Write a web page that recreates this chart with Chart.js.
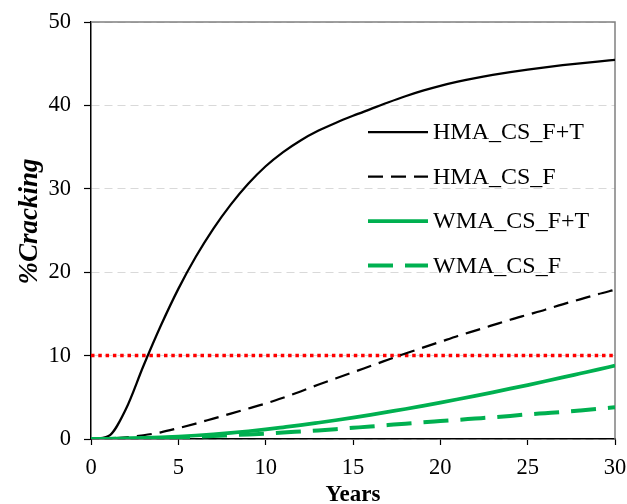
<!DOCTYPE html>
<html>
<head>
<meta charset="utf-8">
<script src="https://cdn.jsdelivr.net/npm/chart.js@4.4.1/dist/chart.umd.min.js"></script>
<style>
  html, body { margin: 0; padding: 0; background: #fff; }
  #wrap { width: 627px; height: 504px; position: relative; }
</style>
</head>
<body>
<div id="wrap"><canvas id="c" width="627" height="504"></canvas></div>
<script>
// Pavement cracking over service life
const years = [0,1,2,3,4,5,6,7,8,9,10,11,12,13,14,15,16,17,18,19,20,21,22,23,24,25,26,27,28,29,30];
const hmaFT = [0,0.35,3.6,8.75,13.6,18.0,21.85,25.2,28.1,30.6,32.7,34.4,35.8,36.95,37.9,38.75,39.55,40.35,41.1,41.77,42.35,42.85,43.28,43.65,43.98,44.28,44.56,44.82,45.05,45.26,45.45];
const hmaF  = [0,0.05,0.2,0.45,0.8,1.3,1.85,2.45,3.05,3.65,4.25,4.95,5.7,6.5,7.25,8.0,8.75,9.5,10.25,10.95,11.65,12.35,13.0,13.65,14.3,14.9,15.5,16.15,16.75,17.35,17.9];
const wmaFT = [0,0.02,0.06,0.12,0.2,0.3,0.42,0.56,0.73,0.93,1.15,1.4,1.66,1.95,2.25,2.57,2.9,3.25,3.6,3.98,4.37,4.77,5.18,5.6,6.03,6.47,6.92,7.38,7.85,8.32,8.8];
const wmaF  = [0,0.01,0.03,0.07,0.12,0.18,0.26,0.35,0.45,0.55,0.65,0.77,0.9,1.03,1.18,1.34,1.5,1.67,1.84,2.0,2.15,2.3,2.45,2.6,2.77,2.95,3.1,3.25,3.42,3.6,3.8];
const threshold = 10;
const seriesNames = ['HMA_CS_F+T', 'HMA_CS_F', 'WMA_CS_F+T', 'WMA_CS_F'];
const yTitle = '%Cracking';
const xTitle = 'Years';
const xTickStep = 5;
const yTickStep = 10;

const GREEN = '#00b050';
const SERIF = "'Liberation Serif', 'DejaVu Serif', serif";

const toPoints = vals => vals.map((v, i) => ({ x: years[i], y: v }));

// Legend drawn inside the plot area, right side
const insideLegend = {
  id: 'insideLegend',
  afterDatasetsDraw(chart) {
    const { ctx, chartArea } = chart;
    const x1 = chartArea.left + 277;
    const x2 = chartArea.left + 337;
    const tx = chartArea.left + 342;
    const y0 = chartArea.top + 110;
    const gap = 44.5;
    ctx.save();
    ctx.font = "24px " + SERIF;
    ctx.textBaseline = 'middle';
    ctx.textAlign = 'left';
    ctx.fillStyle = '#000';
    for (let i = 0; i < seriesNames.length; i++) {
      const ds = chart.data.datasets[i];
      const y = y0 + i * gap;
      ctx.beginPath();
      ctx.lineWidth = ds.borderWidth;
      ctx.strokeStyle = ds.borderColor;
      ctx.setLineDash(ds.borderDash || []);
      ctx.moveTo(x1, y);
      ctx.lineTo(x2, y);
      ctx.stroke();
      ctx.setLineDash([]);
      ctx.fillText(seriesNames[i], tx, y + 1);
    }
    ctx.restore();
  }
};

// Gray frame on the top and right of the plot area, plus the rotated y title
const plotFrame = {
  id: 'plotFrame',
  beforeDatasetsDraw(chart) {
    const { ctx, chartArea } = chart;
    ctx.save();
    ctx.strokeStyle = '#808080';
    ctx.lineWidth = 1.5;
    ctx.beginPath();
    ctx.moveTo(chartArea.left, chartArea.top);
    ctx.lineTo(chartArea.right, chartArea.top);
    ctx.lineTo(chartArea.right, chartArea.bottom);
    ctx.stroke();
    ctx.restore();
  },
  afterDraw(chart) {
    const { ctx, chartArea } = chart;
    ctx.save();
    ctx.translate(chartArea.left - 61, (chartArea.top + chartArea.bottom) / 2 - 9);
    ctx.rotate(-Math.PI / 2);
    ctx.font = "italic bold 27px " + SERIF;
    ctx.textAlign = 'center';
    ctx.textBaseline = 'middle';
    ctx.fillStyle = '#000';
    ctx.fillText(yTitle, 0, 0);
    ctx.restore();
  }
};

new Chart(document.getElementById('c'), {
  type: 'line',
  data: {
    datasets: [
      { label: seriesNames[0], data: toPoints(hmaFT), borderColor: '#000', borderWidth: 2.25, order: 4 },
      { label: seriesNames[1], data: toPoints(hmaF), borderColor: '#000', borderWidth: 2.25, borderDash: [15, 8], order: 3 },
      { label: seriesNames[2], data: toPoints(wmaFT), borderColor: GREEN, borderWidth: 3.75, order: 2 },
      { label: seriesNames[3], data: toPoints(wmaF), borderColor: GREEN, borderWidth: 4, borderDash: [25, 12], order: 1 },
      { label: 'limit', data: [{ x: years[0], y: threshold }, { x: years[years.length - 1], y: threshold }],
        borderColor: '#ff0000', borderWidth: 3.5, borderDash: [3.5, 3.8], order: 5, cubicInterpolationMode: 'default', tension: 0 }
    ]
  },
  options: {
    responsive: false,
    animation: false,
    devicePixelRatio: 1,
    layout: { padding: { top: 22, right: 12, left: 0, bottom: 0 } },
    elements: {
      point: { radius: 0, hoverRadius: 0 },
      line: { cubicInterpolationMode: 'monotone', fill: false, borderCapStyle: 'butt' }
    },
    plugins: {
      legend: { display: false },
      tooltip: { enabled: false }
    },
    scales: {
      x: {
        type: 'linear',
        min: 0, max: 30,
        afterFit(scale) { scale.height = 65; scale.paddingLeft = 0; scale.paddingRight = 0; },
        ticks: {
          stepSize: xTickStep,
          color: '#000',
          padding: 10,
          maxRotation: 0,
          font: { family: SERIF, size: 22.5 }
        },
        grid: { drawOnChartArea: false, drawTicks: true, tickLength: 6, tickColor: '#000', tickWidth: 1.2 },
        border: { color: '#000', width: 1.5 },
        title: {
          display: true,
          text: xTitle,
          color: '#000',
          font: { family: SERIF, size: 23, weight: 'bold', lineHeight: 1 },
          padding: { top: 0, bottom: -3 }
        }
      },
      y: {
        type: 'linear',
        min: 0, max: 50,
        afterFit(scale) { scale.width = 91; scale.paddingTop = 0; scale.paddingBottom = 0; },
        ticks: {
          stepSize: yTickStep,
          color: '#000',
          padding: 13,
          font: { family: SERIF, size: 22.5 }
        },
        grid: { color: '#d9d9d9', lineWidth: 1, tickLength: 7, tickColor: '#000', tickWidth: 1.2, tickBorderDash: [] },
        border: { color: '#000', width: 1.5, dash: [8, 5] }
      }
    }
  },
  plugins: [plotFrame, insideLegend]
});
</script>
</body>
</html>
